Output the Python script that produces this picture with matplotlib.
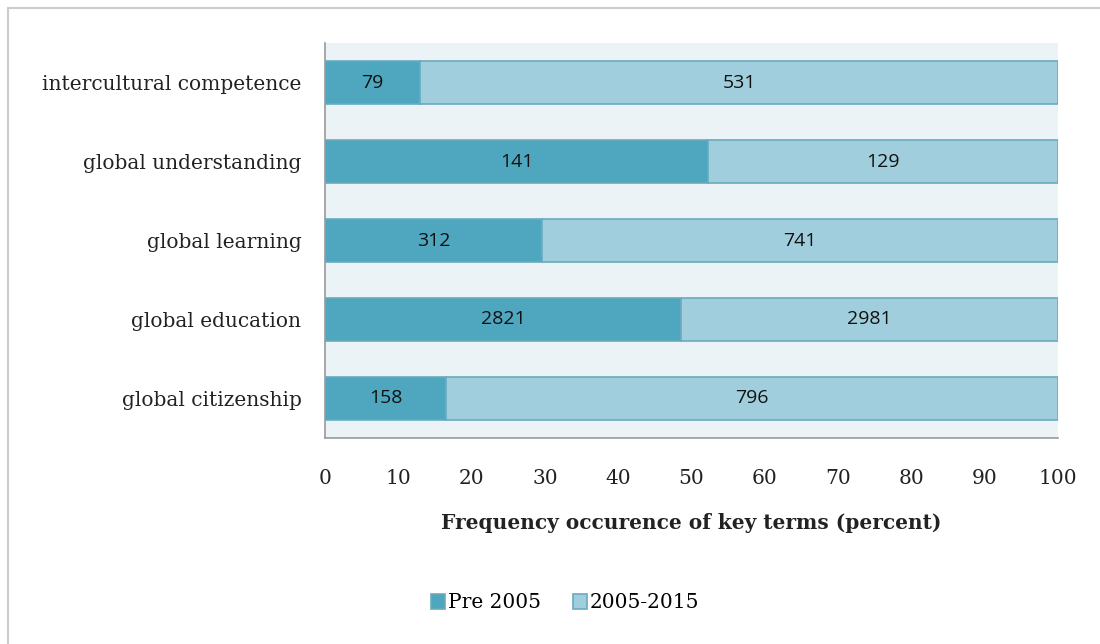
import matplotlib.pyplot as plt
from matplotlib.patches import Rectangle

categories = ["intercultural competence", "global understanding", "global learning",
              "global education", "global citizenship"]
pre_2005 = [79, 141, 312, 2821, 158]
post_2005 = [531, 129, 741, 2981, 796]
xticks = [0, 10, 20, 30, 40, 50, 60, 70, 80, 90, 100]

dark = "#4fa7bf"
light = "#a1cedd"
edge = "#6aaabd"
serif = ["DejaVu Serif"]

pre_pct = [p / (p + q) * 100 for p, q in zip(pre_2005, post_2005)]
post_pct = [100 - p for p in pre_pct]

fig = plt.figure(figsize=(11, 6.44), dpi=100)
ax = fig.add_axes([0.2955, 0.3199, 0.9618 - 0.2955, 0.9332 - 0.3199])
ax.set_facecolor("#ecf3f7")

# outer frame, only left and top edges show in the reference
fig.patches.append(Rectangle((8 / 1100, -0.1), 1.2, 1 - 8 / 644 + 0.1,
                             transform=fig.transFigure, fill=False,
                             edgecolor="#cccccc", linewidth=1.5))

y = list(range(len(categories)))
b1 = ax.barh(y, pre_pct, height=0.54, color=dark, edgecolor=edge, linewidth=1.2,
             label="Pre 2005")
b2 = ax.barh(y, post_pct, left=pre_pct, height=0.54, color=light, edgecolor=edge,
             linewidth=1.2, label="2005-2015")

for bars, vals in ((b1, pre_2005), (b2, post_2005)):
    for rect, v in zip(bars, vals):
        ax.text(rect.get_x() + rect.get_width() / 2, rect.get_y() + rect.get_height() / 2,
                str(v), ha="center", va="center", fontsize=14, color="#111111",
                family=["Open Sans", "DejaVu Sans"])

ax.set_ylim(len(categories) - 0.5, -0.5)
ax.set_xlim(0, 100)
ax.set_yticks(y)
ax.set_yticklabels(categories, family=serif, fontsize=14.5, color="#222222")
ax.set_xticks(xticks)
ax.set_xticklabels([str(t) for t in xticks], family=serif, fontsize=14.5, color="#222222")
ax.tick_params(length=0)
ax.tick_params(axis="y", pad=17)
ax.tick_params(axis="x", pad=22)

for s in ("top", "right"):
    ax.spines[s].set_visible(False)
for s in ("left", "bottom"):
    ax.spines[s].set_color("#999999")
    ax.spines[s].set_linewidth(1.2)

ax.set_xlabel("Frequency occurence of key terms (percent)", family=serif, fontsize=14.5,
              fontweight="bold", color="#222222", labelpad=18)

fig.legend(handles=[b1, b2], loc="center", bbox_to_anchor=(565 / 1100, 1 - 603 / 644),
           ncol=2, frameon=False, prop={"family": serif, "size": 14.5},
           handlelength=0.7, handleheight=0.7, handletextpad=0.15, columnspacing=1.6)

fig.savefig("out.png", dpi=100)
